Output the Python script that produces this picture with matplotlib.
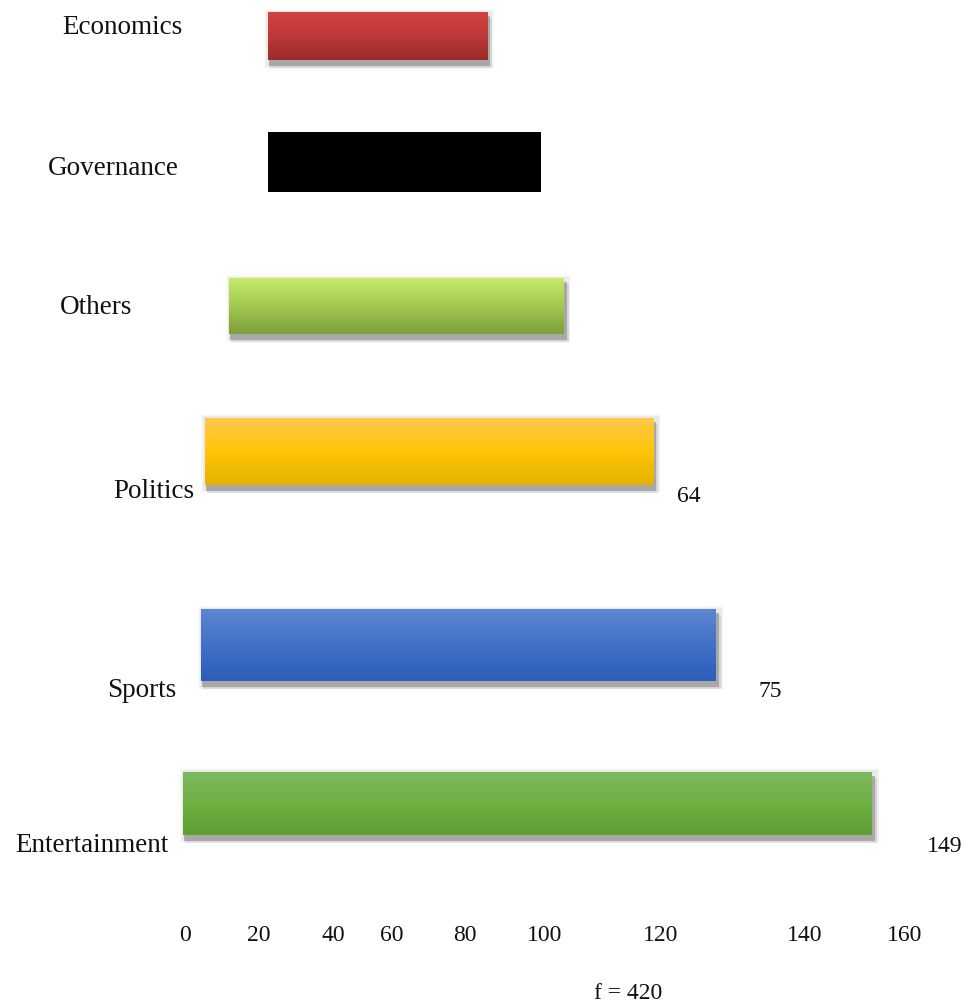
import matplotlib.pyplot as plt
import numpy as np
from matplotlib.colors import LinearSegmentedColormap
from matplotlib.patches import Rectangle

# categories, top to bottom
categories = ['Economics', 'Governance', 'Others', 'Politics', 'Sports', 'Entertainment']
bar_start = [18.4, 18.4, 9.8, 4.4, 3.6, -0.4]
bar_end = [67.1, 79.1, 84.2, 104.0, 118.0, 152.7]
counts = [None, None, None, 64, 75, 149]
total = 420

tick_labels = ['0', '20', '40', '60', '80', '100', '120', '140', '160']
tick_pos = [0, 16.4, 32.9, 46.0, 62.2, 80.0, 105.6, 137.8, 160.0]

# layout (vertical positions in pixel rows, top = 0)
bar_y = [36, 162, 306, 451, 645, 803]
bar_h = [48, 60, 56, 67, 72, 63]
label_x = [-14.0, -16.0, -19.8, -7.0, -9.6, -20.6]
label_y = [27, 168, 307, 491, 690, 845]
value_x = [None, None, None, 112.0, 130.0, 168.9]
value_y = [None, None, None, 496, 691, 846]

# top / mid / bottom gradient colours; None = flat fill without shadow
gradients = [
    ['#d44242', '#bf3838', '#9c2b2b'],
    None,
    ['#c6ea6c', '#a3c850', '#7d9f3a'],
    ['#ffc94c', '#ffc508', '#e5b300'],
    ['#5d86d2', '#4370c8', '#2c5dba'],
    ['#80b960', '#6fb043', '#5e9e33'],
]

PX = 1 / 4.5  # one pixel in x data units

fig = plt.figure(figsize=(9.68, 10.05), dpi=100)
ax = fig.add_axes([0, 0, 1, 1])
ax.set_xlim(-185 * PX, (968 - 185) * PX)
ax.set_ylim(1005, 0)
ax.axis('off')

fills = ['black' if g is None else g[-1] for g in gradients]
bars = ax.barh(bar_y, np.subtract(bar_end, bar_start), left=bar_start,
               height=bar_h, color=fills, zorder=3)

for bar, grad in zip(bars, gradients):
    if grad is None:
        continue
    x0, w = bar.get_x(), bar.get_width()
    y0, h = bar.get_y(), bar.get_height()
    # soft drop shadow: light halo plus a darker band below
    for k, a in zip([7, 5, 3], [0.03, 0.05, 0.08]):
        ax.add_patch(Rectangle((x0 - k * PX * 0.5, y0 - k * 0.5), w + (k + 4) * PX, h + k + 5,
                               facecolor='#808080', edgecolor='none', alpha=a, zorder=1))
    ax.add_patch(Rectangle((x0 + 1 * PX, y0 + 4), w + 2 * PX, h + 2,
                           facecolor='#8a8a8a', edgecolor='none', alpha=0.6, zorder=2))
    ax.add_patch(Rectangle((x0 + 2 * PX, y0 + 6), w + 3 * PX, h + 2,
                           facecolor='#b0b0b0', edgecolor='none', alpha=0.35, zorder=1.5))
    cmap = LinearSegmentedColormap.from_list('g', grad)
    img = ax.imshow(np.linspace(0, 1, 256).reshape(-1, 1), cmap=cmap, aspect='auto',
                    extent=[x0, x0 + w, y0 + h, y0], origin='upper', zorder=4)
    img.set_clip_path(bar)

serif = 'Liberation Serif'
for name, x, y in zip(categories, label_x, label_y):
    ax.text(x, y, name, ha='center', va='center', fontsize=19.5, family=serif, color='#111111')

for c, x, y in zip(counts, value_x, value_y):
    if c is not None:
        ax.text(x, y, str(c), ha='center', va='center', fontsize=17, family=serif, color='#111111')

for lab, x in zip(tick_labels, tick_pos):
    ax.text(x, 935, lab, ha='center', va='center', fontsize=17, family=serif, color='#111111')

ax.text((628 - 185) * PX, 993, f'f = {total}', ha='center', va='center',
        fontsize=17, family=serif, color='#111111')

fig.savefig('out.png', dpi=100)
